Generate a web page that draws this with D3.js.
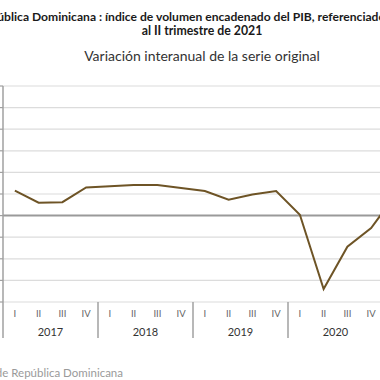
<!DOCTYPE html>
<html>
<head>
<meta charset="utf-8">
<script src="https://cdn.jsdelivr.net/npm/d3@7"></script>
<style>
  html, body { margin: 0; padding: 0; background: #fff; overflow: hidden; }
  svg { display: block; }
</style>
</head>
<body>
<svg id="chart" width="380" height="380"></svg>
<script>
// datos (variación interanual, %)
const years = ["2017", "2018", "2019", "2020", "2021"];
const quarters = ["I", "II", "III", "IV"];
const values = [
    5.8, 3.0, 3.1, 6.5,     // 2017
    6.8, 7.1, 7.1, 6.4,     // 2018
    5.7, 3.7, 4.9, 5.7,     // 2019
    0.2, -17.0, -7.2, -2.9, // 2020
    4.6                     // 2021
];
const yTicks = [-20, -15, -10, -5, 0, 5, 10, 15, 20, 25, 30];

const titleLines = [
    "República Dominicana : índice de volumen encadenado del PIB, referenciado",
    "al II trimestre de 2021"
];
const subtitle = "Variación interanual de la serie original";
const source = "Fuente: Banco Central de República Dominicana";

const W = 380;
const svg = d3.select("#chart");

// un registro por trimestre
const points = values.map((v, i) => ({
    key: years[Math.floor(i / 4)] + "-" + quarters[i % 4],
    year: years[Math.floor(i / 4)],
    q: quarters[i % 4],
    v: v
}));
// eje completo hasta el último año
const allKeys = [];
years.forEach(y => quarters.forEach(q => allKeys.push(y + "-" + q)));

const step = 23.75;
const left = 3;
const x = d3.scaleBand()
    .domain(allKeys)
    .range([left, left + allKeys.length * step])
    .paddingInner(0).paddingOuter(0);

const y = d3.scaleLinear()
    .domain([-20, 30])
    .range([302, 86]);

const axisBottom = 302;
const sepBottom = 338;

// rejilla horizontal
svg.append("g")
    .selectAll("line")
    .data(yTicks)
    .join("line")
    .attr("x1", left)
    .attr("x2", x.range()[1])
    .attr("y1", d => y(d))
    .attr("y2", d => y(d))
    .style("stroke", d => d === 0 ? "#9a9a9a" : "#dcdcdc")
    .style("stroke-width", d => d === 0 ? 2 : 1.2);

// eje vertical con marcas pequeñas
svg.append("line")
    .attr("x1", left).attr("x2", left)
    .attr("y1", y(30)).attr("y2", sepBottom)
    .style("stroke", "#a0a0a0")
    .style("stroke-width", 1.5);

svg.append("g")
    .selectAll("line")
    .data(yTicks)
    .join("line")
    .attr("x1", left - 4).attr("x2", left)
    .attr("y1", d => y(d)).attr("y2", d => y(d))
    .style("stroke", "#a0a0a0")
    .style("stroke-width", 1.2);

// separadores entre años
svg.append("g")
    .selectAll("line")
    .data(years.slice(1))
    .join("line")
    .attr("x1", d => x(d + "-I"))
    .attr("x2", d => x(d + "-I"))
    .attr("y1", axisBottom)
    .attr("y2", sepBottom)
    .style("stroke", "#a0a0a0")
    .style("stroke-width", 1.5);

// etiquetas de trimestre (sólo las que caen dentro del recorte)
svg.append("g")
    .selectAll("text")
    .data(allKeys.filter(k => x(k) + x.bandwidth() / 2 < W - 4))
    .join("text")
    .attr("x", d => x(d) + x.bandwidth() / 2)
    .attr("y", 317)
    .attr("text-anchor", "middle")
    .style("font-family", "Lato, 'DejaVu Sans', sans-serif")
    .style("font-size", "9.5px")
    .style("fill", "#666")
    .text(d => d.split("-")[1]);

// etiquetas de año
svg.append("g")
    .selectAll("text")
    .data(years.filter(d => x(d + "-I") + 2 * step < W - 20))
    .join("text")
    .attr("x", d => x(d + "-I") + 2 * step)
    .attr("y", 336)
    .attr("text-anchor", "middle")
    .style("font-family", "Lato, 'DejaVu Sans', sans-serif")
    .style("font-size", "11px")
    .style("fill", "#333")
    .text(d => d);

// serie
const line = d3.line()
    .x(d => x(d.key) + x.bandwidth() / 2)
    .y(d => y(d.v));

svg.append("path")
    .datum(points)
    .attr("fill", "none")
    .attr("stroke", "#6e5426")
    .attr("stroke-width", 2)
    .attr("stroke-linejoin", "miter")
    .attr("d", line);

// títulos (la primera línea queda algo desplazada a la izquierda, como en el original)
const titleX = [181, 202];
svg.append("g")
    .selectAll("text")
    .data(titleLines)
    .join("text")
    .attr("x", (d, i) => titleX[i])
    .attr("y", (d, i) => 20.5 + i * 14.5)
    .attr("text-anchor", "middle")
    .style("font-family", "Lato, 'DejaVu Sans', sans-serif")
    .style("font-weight", "bold")
    .style("font-size", (d, i) => i === 0 ? "12.1px" : "12.3px")
    .style("fill", "#1a1a1a")
    .text(d => d);

svg.append("text")
    .attr("x", 202)
    .attr("y", 61)
    .attr("text-anchor", "middle")
    .style("font-family", "Lato, 'DejaVu Sans', sans-serif")
    .style("font-size", "14px")
    .style("fill", "#333")
    .text(subtitle);

// fuente
svg.append("text")
    .attr("x", 123)
    .attr("y", 377)
    .attr("text-anchor", "end")
    .style("font-family", "Lato, 'DejaVu Sans', sans-serif")
    .style("font-size", "11.5px")
    .style("fill", "#9a9a9a")
    .text(source);
</script>
</body>
</html>
